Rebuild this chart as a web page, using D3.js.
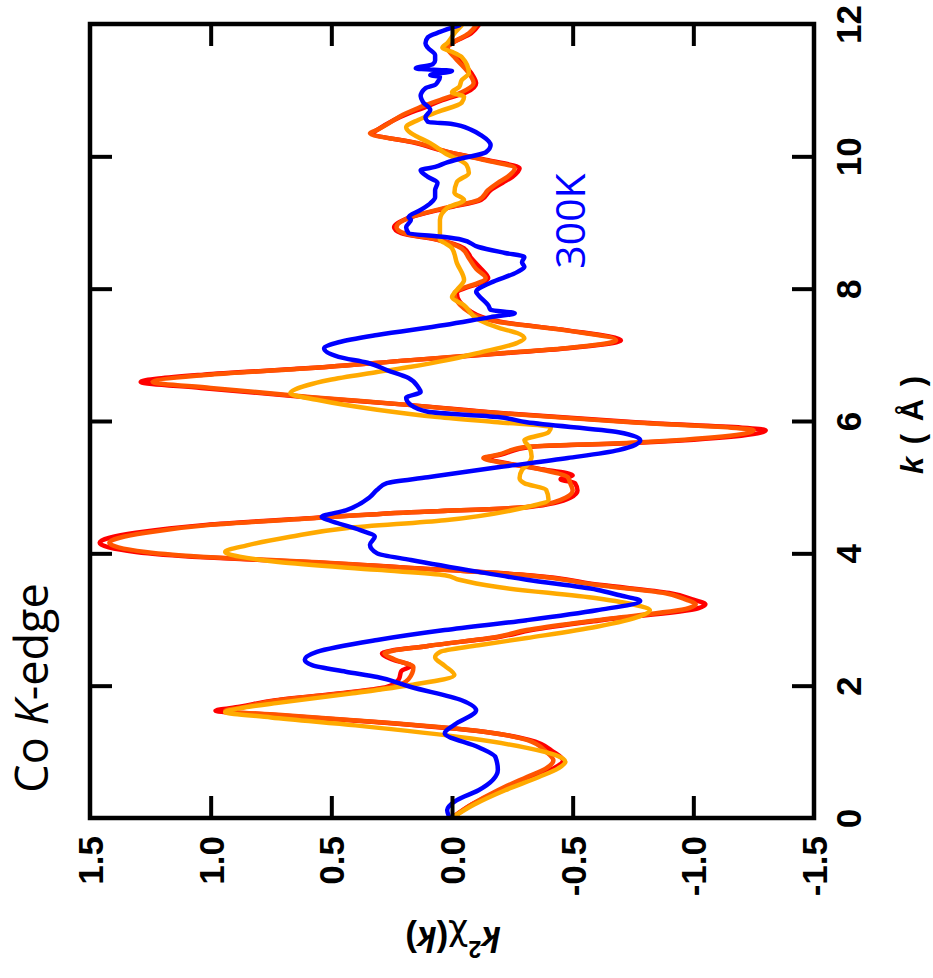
<!DOCTYPE html>
<html>
<head>
<meta charset="utf-8">
<script src="https://cdn.jsdelivr.net/npm/d3@7"></script>
<style>
  html, body { margin: 0; padding: 0; background: #fff; }
  svg { display: block; }
</style>
</head>
<body>
<script>
// ---- Data: [k (Å^-1), k²χ(k)] ----
const kTicks = [0, 2, 4, 6, 8, 10, 12];
const chiTicks = [1.5, 1.0, 0.5, 0.0, -0.5, -1.0, -1.5];
const chiTickLabels = ["1.5", "1.0", "0.5", "0.0", "-0.5", "-1.0", "-1.5"];

const seriesRed = [[0.00,0.00],[0.20,-0.08],[0.42,-0.20],[0.62,-0.33],[0.75,-0.42],[0.87,-0.46],[1.00,-0.42],[1.18,-0.32],[1.30,-0.14],[1.45,0.32],[1.56,0.75],[1.62,0.98],[1.68,0.88],[1.78,0.73],[1.89,0.45],[1.98,0.27],[2.10,0.22],[2.22,0.21],[2.30,0.17],[2.40,0.25],[2.49,0.29],[2.60,0.10],[2.74,-0.20],[2.84,-0.33],[2.99,-0.62],[3.17,-1.02],[3.23,-1.05],[3.30,-1.00],[3.40,-0.90],[3.52,-0.62],[3.67,-0.32],[3.78,0.17],[3.87,0.60],[3.94,1.03],[4.02,1.31],[4.16,1.46],[4.31,1.31],[4.43,1.02],[4.53,0.59],[4.62,0.17],[4.70,-0.32],[4.84,-0.49],[4.95,-0.52],[5.06,-0.51],[5.12,-0.45],[5.18,-0.50],[5.28,-0.36],[5.38,-0.20],[5.44,-0.14],[5.49,-0.20],[5.61,-0.33],[5.67,-0.77],[5.86,-1.30],[5.98,-0.76],[6.12,-0.20],[6.24,0.17],[6.36,0.60],[6.50,1.04],[6.59,1.29],[6.70,1.03],[6.80,0.59],[6.92,0.17],[7.02,-0.20],[7.10,-0.48],[7.22,-0.70],[7.37,-0.48],[7.50,-0.20],[7.70,-0.06],[7.93,-0.02],[8.16,-0.15],[8.30,-0.12],[8.46,-0.08],[8.61,-0.05],[8.74,0.06],[8.84,0.21],[8.93,0.24],[9.08,0.17],[9.22,0.02],[9.34,-0.12],[9.49,-0.16],[9.60,-0.21],[9.69,-0.25],[9.82,-0.28],[9.94,-0.15],[10.05,0.00],[10.20,0.15],[10.35,0.33],[10.40,0.31],[10.65,0.18],[10.73,0.12],[10.85,0.04],[10.97,-0.06],[11.11,-0.10],[11.20,-0.09],[11.50,-0.02],[11.64,0.02],[11.71,0.00],[11.86,-0.08],[11.98,-0.11]];

const seriesOrange = [[0.00,0.00],[0.20,-0.08],[0.42,-0.19],[0.62,-0.31],[0.75,-0.39],[0.87,-0.42],[1.00,-0.39],[1.18,-0.31],[1.30,-0.14],[1.45,0.31],[1.56,0.72],[1.62,0.94],[1.68,0.86],[1.78,0.72],[1.89,0.44],[1.98,0.25],[2.10,0.18],[2.28,0.16],[2.40,0.24],[2.49,0.28],[2.60,0.10],[2.74,-0.19],[2.84,-0.31],[2.99,-0.60],[3.17,-0.98],[3.23,-1.01],[3.30,-0.97],[3.40,-0.88],[3.52,-0.60],[3.67,-0.31],[3.78,0.17],[3.87,0.58],[3.94,1.00],[4.02,1.27],[4.16,1.42],[4.31,1.27],[4.43,1.00],[4.53,0.58],[4.62,0.17],[4.70,-0.31],[4.84,-0.47],[4.95,-0.50],[5.06,-0.49],[5.15,-0.48],[5.28,-0.35],[5.38,-0.19],[5.44,-0.13],[5.49,-0.19],[5.61,-0.31],[5.67,-0.74],[5.86,-1.25],[5.98,-0.74],[6.12,-0.19],[6.24,0.17],[6.36,0.58],[6.50,1.00],[6.59,1.24],[6.70,1.00],[6.80,0.58],[6.92,0.17],[7.02,-0.19],[7.10,-0.47],[7.22,-0.68],[7.37,-0.47],[7.50,-0.19],[7.70,-0.05],[7.93,-0.01],[8.16,-0.14],[8.30,-0.10],[8.46,-0.07],[8.61,-0.04],[8.74,0.06],[8.84,0.20],[8.93,0.23],[9.08,0.17],[9.22,0.03],[9.34,-0.11],[9.49,-0.15],[9.60,-0.19],[9.69,-0.23],[9.82,-0.26],[9.94,-0.14],[10.05,0.00],[10.20,0.14],[10.35,0.34],[10.40,0.31],[10.65,0.19],[10.73,0.14],[10.85,0.05],[10.97,-0.04],[11.11,-0.09],[11.20,-0.08],[11.50,-0.01],[11.64,0.02],[11.71,0.00],[11.86,-0.07],[11.98,-0.10]];

const seriesAmber = [[0.00,0.00],[0.20,-0.09],[0.42,-0.22],[0.62,-0.36],[0.75,-0.44],[0.85,-0.47],[0.95,-0.43],[1.06,-0.31],[1.20,-0.08],[1.40,0.40],[1.52,0.75],[1.60,0.94],[1.67,0.86],[1.74,0.72],[1.88,0.42],[2.01,0.17],[2.16,-0.01],[2.30,0.03],[2.43,0.07],[2.51,0.05],[2.61,-0.11],[2.72,-0.31],[2.89,-0.60],[3.05,-0.78],[3.14,-0.82],[3.22,-0.76],[3.32,-0.60],[3.49,-0.19],[3.60,-0.03],[3.67,0.03],[3.75,0.31],[3.87,0.72],[3.95,0.88],[4.02,0.94],[4.12,0.85],[4.25,0.67],[4.38,0.44],[4.50,0.03],[4.70,-0.31],[4.81,-0.40],[4.96,-0.39],[5.06,-0.30],[5.14,-0.28],[5.26,-0.29],[5.33,-0.31],[5.46,-0.33],[5.61,-0.32],[5.71,-0.30],[5.83,-0.40],[5.91,-0.41],[5.98,-0.19],[6.06,0.06],[6.17,0.31],[6.32,0.56],[6.42,0.67],[6.54,0.60],[6.62,0.51],[6.74,0.31],[6.82,0.17],[6.92,0.02],[7.03,-0.11],[7.18,-0.27],[7.25,-0.30],[7.33,-0.27],[7.40,-0.20],[7.53,-0.11],[7.75,-0.05],[7.87,0.00],[7.98,-0.02],[8.13,-0.05],[8.39,-0.02],[8.61,0.00],[8.69,0.03],[8.74,0.05],[8.84,0.05],[9.04,0.05],[9.22,0.02],[9.34,-0.05],[9.45,-0.01],[9.61,-0.02],[9.75,-0.07],[9.87,-0.06],[10.05,0.03],[10.20,0.09],[10.29,0.14],[10.35,0.17],[10.44,0.19],[10.55,0.14],[10.67,0.06],[10.81,-0.04],[10.90,-0.05],[10.97,0.00],[11.05,-0.03],[11.15,-0.04],[11.26,-0.07],[11.50,-0.04],[11.58,0.00],[11.64,0.04],[11.71,0.02],[11.86,-0.01],[11.98,-0.04]];

const seriesBlue = [[0.00,0.01],[0.12,0.02],[0.27,-0.02],[0.42,-0.11],[0.73,-0.19],[0.92,-0.18],[1.07,-0.11],[1.28,0.03],[1.41,-0.01],[1.63,-0.10],[1.78,-0.04],[1.98,0.17],[2.13,0.31],[2.21,0.44],[2.31,0.58],[2.39,0.61],[2.51,0.56],[2.69,0.31],[2.84,0.03],[2.99,-0.31],[3.14,-0.60],[3.28,-0.78],[3.37,-0.69],[3.45,-0.60],[3.60,-0.31],[3.72,-0.11],[3.90,0.17],[4.00,0.31],[4.13,0.34],[4.25,0.32],[4.35,0.38],[4.50,0.51],[4.55,0.54],[4.65,0.44],[4.85,0.34],[4.96,0.31],[5.06,0.27],[5.15,0.10],[5.30,-0.19],[5.44,-0.48],[5.56,-0.69],[5.71,-0.78],[5.83,-0.69],[5.98,-0.31],[6.06,-0.19],[6.14,0.10],[6.24,0.17],[6.35,0.19],[6.44,0.13],[6.51,0.14],[6.65,0.18],[6.77,0.27],[6.88,0.35],[6.97,0.47],[7.10,0.53],[7.19,0.47],[7.30,0.31],[7.45,0.03],[7.57,-0.16],[7.63,-0.26],[7.68,-0.16],[7.75,-0.15],[7.90,-0.11],[7.95,-0.10],[8.09,-0.16],[8.25,-0.27],[8.33,-0.30],[8.40,-0.29],[8.48,-0.30],[8.54,-0.22],[8.63,-0.11],[8.74,-0.04],[8.78,0.03],[8.84,0.18],[8.93,0.19],[9.04,0.17],[9.08,0.18],[9.19,0.13],[9.29,0.09],[9.38,0.07],[9.49,0.07],[9.60,0.06],[9.69,0.10],[9.79,0.13],[9.84,0.07],[9.91,0.02],[9.97,-0.04],[10.06,-0.14],[10.17,-0.16],[10.32,-0.12],[10.40,-0.08],[10.49,0.00],[10.52,0.10],[10.59,0.11],[10.70,0.09],[10.82,0.12],[10.91,0.13],[11.03,0.11],[11.08,0.07],[11.12,0.06],[11.20,0.05],[11.23,0.09],[11.29,0.00],[11.33,0.15],[11.39,0.08],[11.45,0.07],[11.53,0.07],[11.64,0.10],[11.71,0.11],[11.80,0.10],[11.88,0.05],[11.98,-0.03]];

const seriesList = [
  { name: "red", color: "#ff0000", data: seriesRed },
  { name: "orange", color: "#ff5500", data: seriesOrange },
  { name: "amber", color: "#ffaa00", data: seriesAmber },
  { name: "blue", color: "#0000ff", data: seriesBlue }
];

// ---- Layout ----
const W = 933, H = 978;
const plot = { left: 90, right: 814, top: 24, bottom: 818 };

const svg = d3.select("body").append("svg").attr("width", W).attr("height", H);

// chi runs horizontally (positive to the left), k runs vertically (upwards)
const x = d3.scaleLinear().domain([1.5, -1.5]).range([plot.left, plot.right]);
const y = d3.scaleLinear().domain([0, 12]).range([plot.bottom, plot.top]);

svg.append("clipPath").attr("id", "clip").append("rect")
  .attr("x", plot.left).attr("y", plot.top)
  .attr("width", plot.right - plot.left).attr("height", plot.bottom - plot.top);

const line = d3.line()
  .x(d => x(d[1]))
  .y(d => y(d[0]))
  .curve(d3.curveMonotoneY);

const gLines = svg.append("g").attr("clip-path", "url(#clip)");
seriesList.forEach(s => {
  gLines.append("path")
    .datum(s.data)
    .attr("fill", "none")
    .attr("stroke", s.color)
    .attr("stroke-width", 4.5)
    .attr("stroke-linejoin", "round")
    .attr("stroke-linecap", "round")
    .attr("d", line);
});

const tickFont = "'Liberation Sans', Arial, Helvetica, sans-serif";
const innerTicksChi = [1.0, 0.5, 0.0, -0.5, -1.0];
const innerTicksK = [2, 4, 6, 8, 10];

function styleAxis(g) {
  g.select(".domain").remove();
  g.selectAll(".tick line").attr("stroke", "#000").attr("stroke-width", 4);
}

// bottom
const gB = svg.append("g").attr("transform", `translate(0,${plot.bottom})`)
  .call(d3.axisBottom(x).tickValues(chiTicks)
    .tickFormat((d, i) => chiTickLabels[i]).tickSizeInner(-22).tickSizeOuter(0));
styleAxis(gB);
gB.selectAll(".tick").filter(d => Math.abs(d) > 1.2).select("line").remove();
gB.selectAll(".tick text")
  .attr("transform", "rotate(-90)")
  .attr("x", -18).attr("y", 0).attr("dy", "0.36em")
  .attr("text-anchor", "end")
  .attr("font-family", tickFont).attr("font-weight", "bold")
  .attr("font-size", 35).attr("fill", "#000");

// top
const gT = svg.append("g").attr("transform", `translate(0,${plot.top})`)
  .call(d3.axisTop(x).tickValues(innerTicksChi).tickFormat("").tickSizeInner(-22).tickSizeOuter(0));
styleAxis(gT);

// left
const gL = svg.append("g").attr("transform", `translate(${plot.left},0)`)
  .call(d3.axisLeft(y).tickValues(innerTicksK).tickFormat("").tickSizeInner(-22).tickSizeOuter(0));
styleAxis(gL);

// right (with labels)
const gR = svg.append("g").attr("transform", `translate(${plot.right},0)`)
  .call(d3.axisRight(y).tickValues(kTicks).tickFormat(d3.format("d")).tickSizeInner(-22).tickSizeOuter(0));
styleAxis(gR);
gR.selectAll(".tick").filter(d => d === 0 || d === 12).select("line").remove();
gR.selectAll(".tick text")
  .attr("transform", "rotate(-90)")
  .attr("x", 0).attr("y", 47).attr("dy", 0)
  .attr("text-anchor", "middle")
  .attr("font-family", tickFont).attr("font-weight", "bold")
  .attr("font-size", 35).attr("fill", "#000");

// frame
svg.append("rect")
  .attr("x", plot.left).attr("y", plot.top)
  .attr("width", plot.right - plot.left).attr("height", plot.bottom - plot.top)
  .attr("fill", "none").attr("stroke", "#000").attr("stroke-width", 4.5);

// bottom axis title, upside-down: k²χ(k)
const tB = svg.append("text")
  .attr("transform", "translate(453,927) rotate(180)")
  .attr("text-anchor", "middle")
  .attr("font-family", tickFont).attr("font-weight", "bold")
  .attr("font-size", 35).attr("fill", "#000");
tB.append("tspan").attr("font-style", "italic").text("k");
tB.append("tspan").attr("font-size", 23).attr("dy", -14).text("2");
tB.append("tspan").attr("dy", 14).attr("font-weight", "normal")
  .attr("font-family", "'DejaVu Sans', sans-serif").text("\u03C7");
tB.append("tspan").text("(");
tB.append("tspan").attr("font-style", "italic").text("k");
tB.append("tspan").text(")");

// right axis title: k (Å)
const tR = svg.append("text")
  .attr("transform", "translate(923,424) rotate(-90)")
  .attr("text-anchor", "middle")
  .attr("font-family", tickFont).attr("font-weight", "bold")
  .attr("font-size", 31).attr("fill", "#000")
  .attr("letter-spacing", 2)
  .attr("xml:space", "preserve");
tR.append("tspan").attr("font-style", "italic").text("k");
tR.append("tspan").text(" ( Å )");

// "Co K-edge" annotation
const tCo = svg.append("text")
  .attr("transform", "translate(48,688) rotate(-90)")
  .attr("text-anchor", "middle")
  .attr("font-family", "'Open Sans', 'Noto Sans', sans-serif")
  .attr("font-size", 45).attr("fill", "#000");
tCo.append("tspan").text("Co ");
tCo.append("tspan").attr("font-style", "italic").text("K");
tCo.append("tspan").text("-edge");

// "300K" label
svg.append("text")
  .attr("transform", "translate(585,221) rotate(-90)")
  .attr("text-anchor", "middle")
  .attr("font-family", "'Open Sans', 'Noto Sans', sans-serif")
  .attr("font-size", 41).attr("fill", "#0000ff")
  .text("300K");
</script>
</body>
</html>
